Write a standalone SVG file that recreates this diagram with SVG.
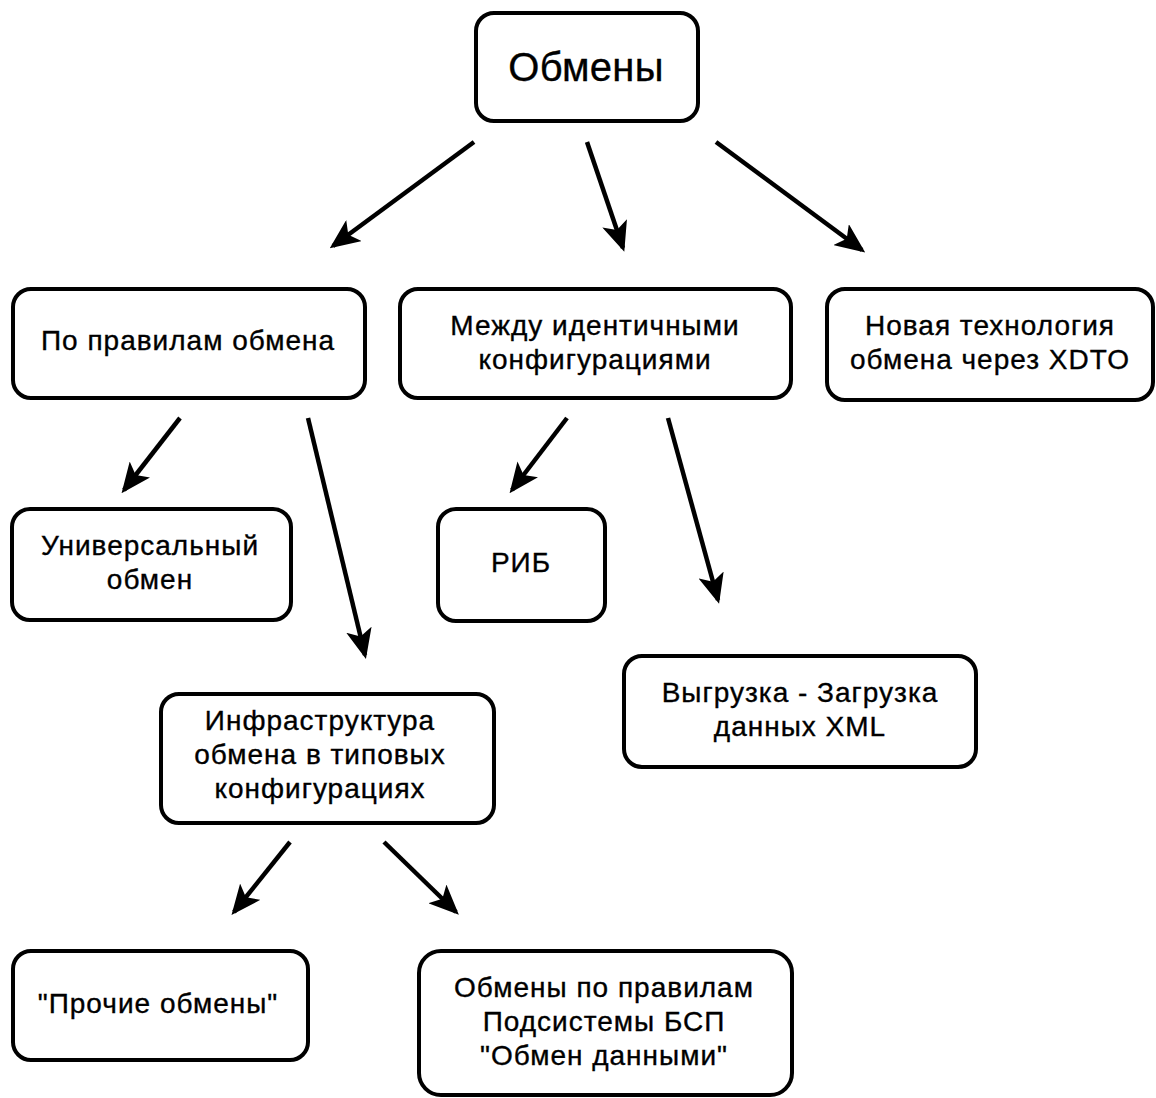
<svg xmlns="http://www.w3.org/2000/svg" width="1156" height="1098" viewBox="0 0 1156 1098">
<defs>
<style>
.box{fill:#fff;stroke:#000;stroke-width:4}
.t{font-family:"Liberation Sans",Arial,sans-serif;font-size:28px;letter-spacing:1px;fill:#000;stroke:#000;stroke-width:0.35px;text-anchor:middle}
.big{font-size:40px;letter-spacing:0.3px}
.c{stroke:#000;stroke-width:4.5;fill:none;marker-end:url(#ah)}
</style>
<marker id="ah" markerUnits="userSpaceOnUse" viewBox="0 0 30 26" refX="26" refY="13" markerWidth="30" markerHeight="26" orient="auto">
<path d="M0,0 L30,13 L0,26 L7,13 Z" fill="#000"/>
</marker>
</defs>
<rect width="1156" height="1098" fill="#fff"/>
<g id="connectors">
<line class="c" x1="474" y1="142" x2="333" y2="246"/>
<line class="c" x1="587" y1="142" x2="623" y2="248"/>
<line class="c" x1="716" y1="142" x2="862" y2="250"/>
<line class="c" x1="180" y1="418" x2="124" y2="490"/>
<line class="c" x1="308" y1="418" x2="365" y2="655"/>
<line class="c" x1="567" y1="418" x2="512" y2="490"/>
<line class="c" x1="668" y1="418" x2="718" y2="600"/>
<line class="c" x1="290" y1="842" x2="234" y2="912"/>
<line class="c" x1="384" y1="842" x2="456" y2="912"/>
</g>
<g id="n-obmeny">
<rect class="box" x="476" y="13" width="222" height="108" rx="18"/>
<text class="t big" x="586" y="81">Обмены</text>
</g>
<g id="n-po-pravilam">
<rect class="box" x="13" y="289" width="352" height="109" rx="18"/>
<text class="t" x="188" y="350">По правилам обмена</text>
</g>
<g id="n-mezhdu">
<rect class="box" x="400" y="289" width="391" height="109" rx="18"/>
<text class="t" x="595" y="335">Между идентичными</text>
<text class="t" x="595" y="369">конфигурациями</text>
</g>
<g id="n-xdto">
<rect class="box" x="827" y="289" width="326" height="111" rx="18"/>
<text class="t" x="990" y="335">Новая технология</text>
<text class="t" x="990" y="369">обмена через XDTO</text>
</g>
<g id="n-universal">
<rect class="box" x="12" y="509" width="279" height="111" rx="18"/>
<text class="t" x="150" y="555">Универсальный</text>
<text class="t" x="150" y="589">обмен</text>
</g>
<g id="n-rib">
<rect class="box" x="438" y="509" width="167" height="112" rx="18"/>
<text class="t" x="521" y="572">РИБ</text>
</g>
<g id="n-infra">
<rect class="box" x="161" y="694" width="333" height="129" rx="18"/>
<text class="t" x="320" y="730">Инфраструктура</text>
<text class="t" x="320" y="764">обмена в типовых</text>
<text class="t" x="320" y="798">конфигурациях</text>
</g>
<g id="n-xml">
<rect class="box" x="624" y="656" width="352" height="111" rx="18"/>
<text class="t" x="800" y="702">Выгрузка - Загрузка</text>
<text class="t" x="800" y="736">данных XML</text>
</g>
<g id="n-prochie">
<rect class="box" x="13" y="951" width="295" height="109" rx="18"/>
<text class="t" x="158" y="1013">"Прочие обмены"</text>
</g>
<g id="n-bsp">
<rect class="box" x="419" y="951" width="373" height="144" rx="22"/>
<text class="t" x="604" y="997">Обмены по правилам</text>
<text class="t" x="604" y="1031">Подсистемы БСП</text>
<text class="t" x="604" y="1065">"Обмен данными"</text>
</g>
</svg>
